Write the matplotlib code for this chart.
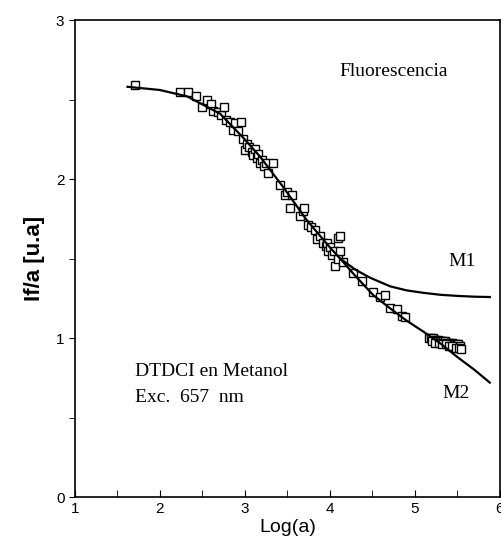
import matplotlib.pyplot as plt
from matplotlib.ticker import MultipleLocator

# datos experimentales (Log(a), If/a)
log_a = [1.71, 2.24, 2.33, 2.42, 2.5, 2.55, 2.6, 2.63, 2.68, 2.72, 2.76, 2.78, 2.82,
         2.86, 2.88, 2.92, 2.96, 2.98, 3.0, 3.02, 3.05, 3.08, 3.1, 3.12, 3.14, 3.16,
         3.18, 3.2, 3.22, 3.25, 3.27, 3.33, 3.41, 3.47, 3.49, 3.53, 3.56, 3.65, 3.68,
         3.7, 3.74, 3.78, 3.82, 3.85, 3.88, 3.92, 3.95, 3.96, 3.98, 4.0, 4.02, 4.05,
         4.06, 4.09, 4.1, 4.12, 4.12, 4.15, 4.27, 4.38, 4.51, 4.59, 4.65, 4.71, 4.79,
         4.85, 4.88,
         5.17, 5.19, 5.21, 5.23, 5.25, 5.27, 5.29, 5.31, 5.33, 5.35, 5.37, 5.39, 5.41,
         5.43, 5.45, 5.47, 5.49, 5.51, 5.53,
         5.2, 5.24, 5.28, 5.32, 5.36, 5.4, 5.44, 5.48, 5.52, 5.54]
if_a = [2.59, 2.55, 2.55, 2.52, 2.45, 2.5, 2.47, 2.43, 2.42, 2.4, 2.45, 2.37, 2.36,
        2.31, 2.35, 2.3, 2.36, 2.25, 2.18, 2.22, 2.2, 2.17, 2.15, 2.19, 2.13, 2.16,
        2.1, 2.12, 2.08, 2.1, 2.04, 2.1, 1.96, 1.9, 1.92, 1.82, 1.9, 1.77, 1.8,
        1.82, 1.71, 1.7, 1.68, 1.62, 1.64, 1.6, 1.58, 1.6, 1.55, 1.57, 1.52, 1.55,
        1.45, 1.63, 1.5, 1.64, 1.55, 1.48, 1.41, 1.36, 1.29, 1.26, 1.27, 1.19, 1.18,
        1.14, 1.13,
        1.0, 1.0, 1.0, 0.99, 0.99, 0.99, 0.98, 0.98, 0.98, 0.98, 0.97, 0.97, 0.97,
        0.97, 0.96, 0.96, 0.96, 0.96, 0.95,
        0.98, 0.97, 0.97, 0.96, 0.96, 0.95, 0.95, 0.94, 0.94, 0.93]

# curva del modelo M1
m1_x = [1.62, 2.0, 2.32, 2.71, 2.98, 3.18, 3.45, 3.73, 4.0, 4.12, 4.3, 4.47, 4.6,
        4.71, 4.9, 5.09, 5.3, 5.5, 5.7, 5.88]
m1_y = [2.58, 2.56, 2.52, 2.41, 2.26, 2.14, 1.95, 1.74, 1.57, 1.5, 1.43, 1.38, 1.35,
        1.325, 1.3, 1.285, 1.272, 1.265, 1.26, 1.258]

# curva del modelo M2
m2_x = [4.12, 4.3, 4.51, 4.7, 4.9, 5.1, 5.29, 5.5, 5.7, 5.88]
m2_y = [1.5, 1.39, 1.27, 1.19, 1.11, 1.04, 0.97, 0.88, 0.8, 0.72]

fig = plt.figure(figsize=(5.02, 5.56), dpi=100)
ax = fig.add_axes([0.149, 0.106, 0.847, 0.858])

ax.plot(log_a, if_a, linestyle='none', marker='s', markersize=5.5,
        markerfacecolor='white', markeredgecolor='black', markeredgewidth=1.0)
ax.plot(m1_x, m1_y, color='black', linewidth=1.6)
ax.plot(m2_x, m2_y, color='black', linewidth=1.6)

ax.set_xlim(1, 6)
ax.set_ylim(0, 3)
ax.xaxis.set_major_locator(MultipleLocator(1))
ax.xaxis.set_minor_locator(MultipleLocator(0.5))
ax.yaxis.set_major_locator(MultipleLocator(1))
ax.yaxis.set_minor_locator(MultipleLocator(0.5))
ax.tick_params(axis='x', which='both', direction='in', length=5, labelsize=11)
ax.tick_params(axis='y', which='both', direction='out', length=4, labelsize=11)
for lab in ax.get_xticklabels() + ax.get_yticklabels():
    lab.set_family('Liberation Sans')
for s in ax.spines.values():
    s.set_linewidth(1.2)

ax.set_xlabel('Log(a)', fontsize=14, family='Liberation Sans', labelpad=2)
ax.set_ylabel('If/a [u.a]', fontsize=16, family='Liberation Sans',
              fontweight='bold', labelpad=8)

serif = 'Liberation Serif'
ax.text(4.11, 2.65, 'Fluorescencia', fontsize=14, family=serif)
ax.text(5.39, 1.45, 'M1', fontsize=14, family=serif)
ax.text(5.32, 0.62, 'M2', fontsize=14, family=serif)
ax.text(1.71, 0.76, 'DTDCI en Metanol', fontsize=14, family=serif)
ax.text(1.71, 0.60, 'Exc.  657  nm', fontsize=14, family=serif)

fig.savefig('out.png', dpi=100)
